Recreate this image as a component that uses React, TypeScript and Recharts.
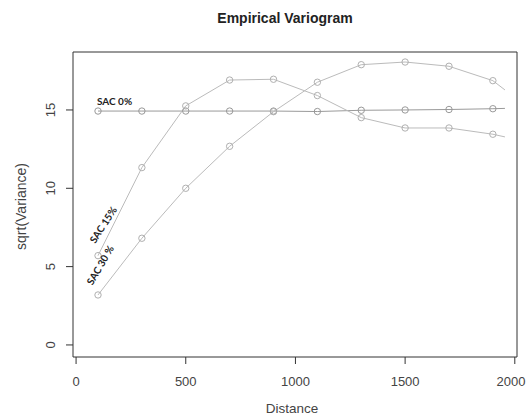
import { LineChart, Line, XAxis, YAxis, CartesianGrid, LabelList } from 'recharts'

// lag distances (last one is where the lines run out, no marker)
const distance = [100, 300, 500, 700, 900, 1100, 1300, 1500, 1700, 1900, 1955]
const sac0 = [14.93, 14.93, 14.93, 14.93, 14.93, 14.9, 14.98, 15.0, 15.03, 15.08, 15.1]
const sac15 = [5.7, 11.32, 15.26, 16.91, 16.96, 15.92, 14.51, 13.85, 13.85, 13.45, 13.28]
const sac30 = [3.19, 6.81, 10.0, 12.68, 14.89, 16.77, 17.89, 18.06, 17.79, 16.87, 16.28]

const xTicks = [0, 500, 1000, 1500, 2000]
const yTicks = [0, 5, 10, 15]

const data = distance.map((d, i) => ({
  distance: d,
  sac0: sac0[i],
  sac15: sac15[i],
  sac30: sac30[i],
}))

const AXIS_FONT = '"Liberation Sans", Arial, sans-serif'
const NOTE_FONT = 'Lato, "Open Sans", sans-serif'

const makeDot = (stroke: string) => (p: any) => {
  if (p.index === distance.length - 1) return <g key={`d${p.index}`} />
  return (
    <circle key={`d${p.index}`} cx={p.cx} cy={p.cy} r={3.2} fill="none" stroke={stroke} strokeWidth={1} />
  )
}

// series name written next to the first point, like the hand-added notes in the original
const makeNote = (text: string, dx: number, dy: number, angle: number, anchor: string) => (p: any) => {
  if (p.index !== 0) return null
  const tx = p.x + dx
  const ty = p.y + dy
  return (
    <text
      x={tx}
      y={ty}
      textAnchor={anchor}
      dominantBaseline={angle ? 'central' : 'alphabetic'}
      transform={angle ? `rotate(${angle}, ${tx}, ${ty})` : undefined}
      fontFamily={NOTE_FONT}
      fontWeight={700}
      fontSize={10}
      fill="#222"
    >
      {text}
    </text>
  )
}

// keep the last label ("2000") inside the window
const XTick = ({ x, y, payload }: any) => (
  <text
    x={Math.min(x, 511)}
    y={y}
    dy="0.71em"
    textAnchor="middle"
    fontFamily={AXIS_FONT}
    fontSize={13}
    fill="#444"
  >
    {payload.value}
  </text>
)

const YTick = ({ x, y, payload }: any) => (
  <text
    x={x - 14}
    y={y}
    dy="0.35em"
    textAnchor="middle"
    transform={`rotate(-90, ${x - 14}, ${y})`}
    fontFamily={AXIS_FONT}
    fontSize={13}
    fill="#444"
  >
    {payload.value}
  </text>
)

export default function App() {
  return (
    <div style={{ position: 'absolute', left: 0, top: 0, width: 526, height: 416, background: '#fff' }}>
      <div
        style={{
          position: 'absolute',
          left: 0,
          top: 10,
          width: 570,
          textAlign: 'center',
          fontFamily: AXIS_FONT,
          fontWeight: 700,
          fontSize: 14,
          color: '#222',
        }}
      >
        Empirical Variogram
      </div>
      <LineChart width={526} height={416} data={data} margin={{ top: 52, right: 9, left: 0, bottom: 0 }}>
        <CartesianGrid
          stroke="#333"
          strokeWidth={1}
          horizontalCoordinatesGenerator={({ offset }: any) => [offset.top, offset.top + offset.height]}
          verticalCoordinatesGenerator={({ offset }: any) => [offset.left, offset.left + offset.width]}
        />
        <XAxis
          dataKey="distance"
          type="number"
          domain={[-14, 2010]}
          allowDataOverflow
          ticks={xTicks}
          interval={0}
          axisLine={false}
          tickLine={{ stroke: '#333' }}
          tickSize={7}
          tickMargin={13}
          tick={<XTick />}
          height={59}
          label={{
            content: ({ viewBox }: any) => (
              <text
                x={viewBox.x + viewBox.width / 2 - 3}
                y={413}
                textAnchor="middle"
                fontFamily={AXIS_FONT}
                fontSize={13.5}
                fill="#444"
              >
                Distance
              </text>
            ),
          }}
        />
        <YAxis
          type="number"
          domain={[-0.77, 18.7]}
          allowDataOverflow
          ticks={yTicks}
          interval={0}
          axisLine={false}
          tickLine={{ stroke: '#333' }}
          tickSize={7}
          tick={<YTick />}
          width={73}
          label={{
            content: ({ viewBox }: any) => {
              const cy = viewBox.y + viewBox.height / 2 + 2
              return (
                <text
                  x={21}
                  y={cy}
                  dy="0.35em"
                  textAnchor="middle"
                  transform={`rotate(-90, 21, ${cy})`}
                  fontFamily={AXIS_FONT}
                  fontSize={14}
                  fill="#444"
                >
                  sqrt(Variance)
                </text>
              )
            },
          }}
        />
        <Line
          dataKey="sac0"
          stroke="#9a9a9a"
          strokeWidth={1}
          dot={makeDot('#999')}
          isAnimationActive={false}
        >
          <LabelList dataKey="sac0" content={makeNote('SAC 0%', -1, -6, 0, 'start')} />
        </Line>
        <Line
          dataKey="sac15"
          stroke="#bbb"
          strokeWidth={1}
          dot={makeDot('#b0b0b0')}
          isAnimationActive={false}
        >
          <LabelList dataKey="sac15" content={makeNote('SAC 15%', 5, -31, -57, 'middle')} />
        </Line>
        <Line
          dataKey="sac30"
          stroke="#bbb"
          strokeWidth={1}
          dot={makeDot('#b0b0b0')}
          isAnimationActive={false}
        >
          <LabelList dataKey="sac30" content={makeNote('SAC 30 %', 2, -30, -60, 'middle')} />
        </Line>
      </LineChart>
    </div>
  )
}
